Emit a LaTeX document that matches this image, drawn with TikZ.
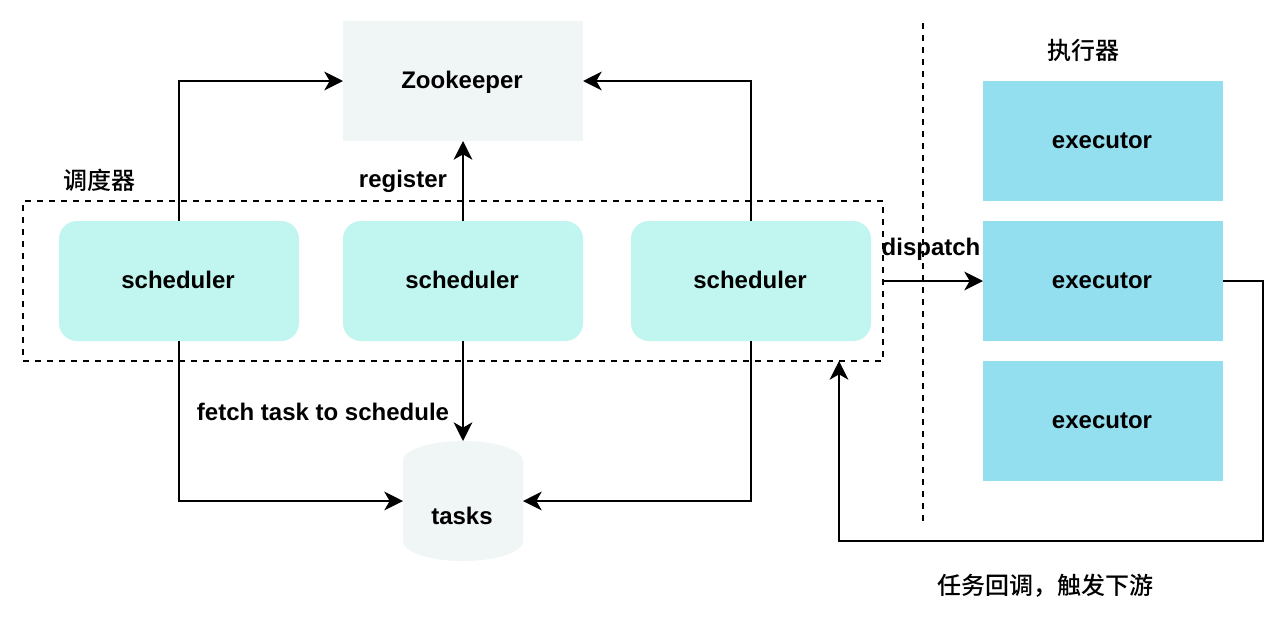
\documentclass[tikz,border=0pt]{standalone}
\usepackage{fontspec}
\setmainfont{Liberation Sans}
\newfontfamily\cjk{Noto Sans CJK SC Medium}
\usetikzlibrary{arrows.meta,shapes.geometric}
\definecolor{sch}{HTML}{C1F5EF}
\definecolor{exe}{HTML}{94DFEF}
\definecolor{gry}{HTML}{F0F5F5}
\tikzset{x=0.75pt,y=-0.75pt,
 lbl/.style={font=\fontsize{18pt}{20pt}\selectfont\bfseries,inner sep=0pt,text=black,text height=13pt,text depth=2.5pt},
 boxlbl/.style={lbl,execute at end node={\kern1.5pt}},
 cjklbl/.style={font=\cjk\fontsize{18pt}{20pt}\selectfont,inner sep=0pt,text=black},
 schbox/.style={boxlbl,fill=sch,rounded corners=13.5pt,minimum width=180pt,minimum height=90pt,outer sep=0pt},
 exebox/.style={boxlbl,fill=exe,minimum width=180pt,minimum height=90pt,outer sep=0pt},
 conn/.style={draw=black,line width=1.5pt,-{Stealth[length=14pt,width=14pt,inset=4pt]}},
 dashline/.style={draw=black,line width=1.5pt,dash pattern=on 4.5pt off 4.5pt}
}
\begin{document}
\begin{tikzpicture}
\useasboundingbox (0,0) rectangle (1288,618);
\fill[white] (0,0) rectangle (1288,618);
\node[boxlbl,fill=gry,minimum width=180pt,minimum height=90pt,outer sep=0pt] (zk) at (463,81) {Zookeeper};
\node[schbox] (s1) at (179,281) {scheduler};
\node[schbox] (s2) at (463,281) {scheduler};
\node[schbox] (s3) at (751,281) {scheduler};
\node[exebox] (e1) at (1103,141) {executor};
\node[exebox] (e2) at (1103,281) {executor};
\node[exebox] (e3) at (1103,421) {executor};
\fill[gry] (403,461) arc[start angle=180,end angle=360,x radius=60,y radius=20] -- (523,541) arc[start angle=0,end angle=180,x radius=60,y radius=20] -- cycle;
\node[boxlbl] (t) at (463,517) {tasks};
\coordinate (tw) at (403,501);
\coordinate (te) at (523,501);
\coordinate (tn) at (463,441);
\node[dashline,minimum width=645pt,minimum height=120pt,inner sep=0pt,outer sep=0pt,anchor=north west] (grp) at (23,201) {};
\coordinate (d1) at (923,23);
\coordinate (d2) at (923,521);
\draw[dashline] (d1) -- (d2);
\draw[conn] (s1.north) |- (zk.west);
\draw[conn] (s2.north) -- (zk.south);
\draw[conn] (s3.north) |- (zk.east);
\draw[conn] (s1.south) |- (tw);
\draw[conn] (s2.south) -- (tn);
\draw[conn] (s3.south) |- (te);
\draw[conn] (grp.east) -- (e2.west);
\coordinate (r1) at (1263,281);
\coordinate (r2) at (1263,541);
\coordinate (r3) at (839,541);
\coordinate (r4) at (839,361);
\draw[conn] (e2.east) -- (r1) -- (r2) -- (r3) -- (r4);
\node[lbl] (l1) at (403,180) {register};
\node[lbl] (l2) at (323,413) {fetch task to schedule};
\node[lbl] (l3) at (931,248) {dispatch};
\node[cjklbl] (l4) at (99,180) {调度器};
\node[cjklbl] (l5) at (1083,50) {执行器};
\node[cjklbl] (l6) at (1045,586) {任务回调，触发下游};
\end{tikzpicture}
\end{document}
